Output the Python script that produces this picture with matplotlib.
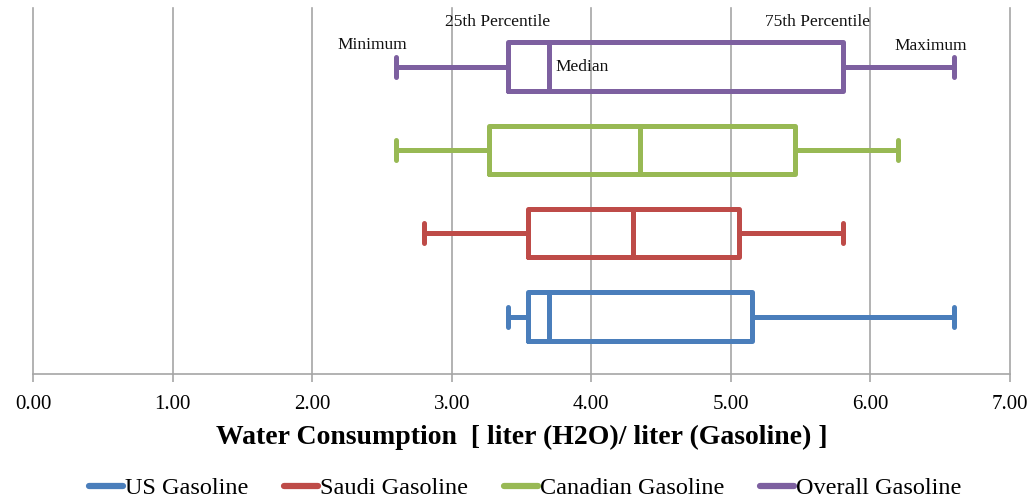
import matplotlib
matplotlib.use("Agg")
import matplotlib.pyplot as plt
from matplotlib.lines import Line2D

# Water consumption summary statistics, liter(H2O) per liter(gasoline)
series = ["US Gasoline", "Saudi Gasoline", "Canadian Gasoline", "Overall Gasoline"]
minimum = [3.40, 2.80, 2.60, 2.60]
q1 = [3.55, 3.55, 3.27, 3.40]
median = [3.70, 4.30, 4.35, 3.70]
q3 = [5.15, 5.06, 5.46, 5.80]
maximum = [6.60, 5.80, 6.20, 6.60]
colors = ["#4A7EBB", "#BE4B48", "#98B954", "#7D60A0"]
xticks = [0, 1, 2, 3, 4, 5, 6, 7]

serif = ["Liberation Serif", "DejaVu Serif"]

fig = plt.figure(figsize=(10.36, 5.0), dpi=100)
ax = fig.add_axes([33 / 1036, 126 / 500, 977 / 1036, 366 / 500])

for i, name in enumerate(series):
    stats = [dict(label=name, whislo=minimum[i], q1=q1[i], med=median[i],
                  q3=q3[i], whishi=maximum[i], fliers=[])]
    lp = dict(color=colors[i], linewidth=3.6, solid_capstyle="round",
              solid_joinstyle="round")
    ax.bxp(stats, positions=[i + 1], widths=0.58, capwidths=0.24,
           orientation="horizontal", showfliers=False, patch_artist=False,
           boxprops=lp, whiskerprops=lp, capprops=lp, medianprops=lp,
           manage_ticks=False)

ax.set_xlim(0, 7)
ax.set_ylim(0.31, 4.704)
ax.set_xticks(xticks)
ax.set_xticklabels([f"{t:.2f}" for t in xticks], fontfamily=serif, fontsize=15)
ax.set_yticks([])
ax.xaxis.grid(True, color="#a6a6a6", linewidth=1.2)
ax.set_axisbelow(True)
for g in ax.get_xgridlines():
    g.set_clip_on(False)
for s in ["top", "right", "left"]:
    ax.spines[s].set_visible(False)
ax.spines["bottom"].set_color("#a6a6a6")
ax.spines["bottom"].set_linewidth(1.2)
ax.tick_params(axis="x", direction="out", length=6, width=1.2,
               color="#a6a6a6", pad=9)

ax.set_xlabel("Water Consumption  [ liter (H2O)/ liter (Gasoline) ]",
              fontfamily=serif, fontsize=20, fontweight="bold", labelpad=8)

# Labels explaining the box-plot anatomy on the top box
ann = dict(fontfamily=serif, fontsize=12.5, color="#111111")
ax.text(2.43, 4.26, "Minimum", ha="center", va="center", **ann)
ax.text(3.33, 4.53, "25th Percentile", ha="center", va="center", **ann)
ax.text(3.74, 4.0, "Median", ha="left", va="center", **ann)
ax.text(5.62, 4.54, "75th Percentile", ha="center", va="center", **ann)
ax.text(6.43, 4.25, "Maximum", ha="center", va="center", **ann)

handles = [Line2D([0], [0], color=c, linewidth=4.5, solid_capstyle="round")
           for c in colors]
fig.legend(handles, series, loc="center", bbox_to_anchor=(0.507, 0.024),
           ncol=4, frameon=False, handlelength=1.4, handletextpad=0.1,
           columnspacing=1.45, prop=dict(family=serif, size=17.5))

fig.savefig("out.png", dpi=100)
